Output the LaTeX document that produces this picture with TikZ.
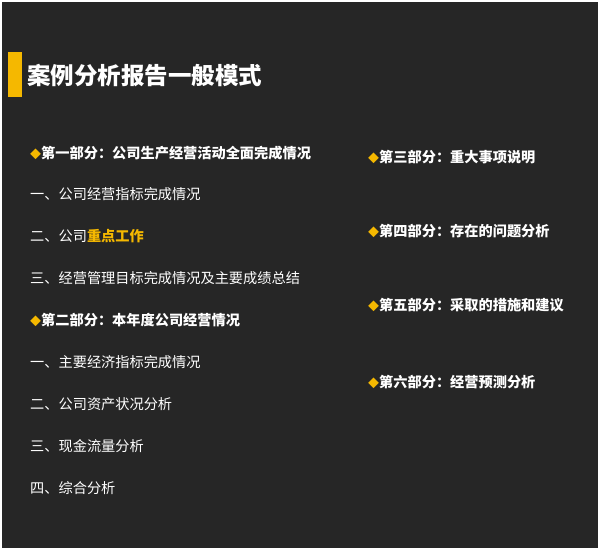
\documentclass[tikz,border=0pt]{standalone}
\usepackage{fontspec}
\newfontfamily\cjk{Noto Sans CJK SC}
\definecolor{bg}{HTML}{262626}
\definecolor{gold}{HTML}{F5B800}
\newcommand{\dia}{{\textcolor{gold}{\fontsize{11}{12}\selectfont ◆}}}
\begin{document}
\begin{tikzpicture}[x=1pt,y=-1pt,
  txt/.style={anchor=west,inner sep=0pt,text=white,font=\cjk\fontsize{14.2}{16}\selectfont},
  hd/.style={txt,font=\cjk\bfseries\fontsize{14.2}{16}\selectfont}]
\fill[white] (0,0) rectangle (600,550);
\fill[bg] (2,2) rectangle (598,548);
\fill[gold] (8,52) rectangle (22,97);
\node[anchor=west,inner sep=0pt,text=white,font=\cjk\bfseries\fontsize{23.5}{26}\selectfont] (title) at (27,76) {案例分析报告一般模式};
\node[hd] (p1) at (30,153) {\dia 第一部分：公司生产经营活动全面完成情况};
\node[txt] (a1) at (30,194) {一、公司经营指标完成情况};
\node[txt] (a2) at (30,236) {二、公司\textcolor{gold}{\bfseries 重点工作}};
\node[txt] (a3) at (30,278) {三、经营管理目标完成情况及主要成绩总结};
\node[hd] (p2) at (30,320) {\dia 第二部分：本年度公司经营情况};
\node[txt] (b1) at (30,362) {一、主要经济指标完成情况};
\node[txt] (b2) at (30,404) {二、公司资产状况分析};
\node[txt] (b3) at (30,446) {三、现金流量分析};
\node[txt] (b4) at (30,488) {四、综合分析};
\node[hd] (p3) at (368,157) {\dia 第三部分：重大事项说明};
\node[hd] (p4) at (368,231) {\dia 第四部分：存在的问题分析};
\node[hd] (p5) at (368,305) {\dia 第五部分：采取的措施和建议};
\node[hd] (p6) at (368,382) {\dia 第六部分：经营预测分析};
\end{tikzpicture}
\end{document}
